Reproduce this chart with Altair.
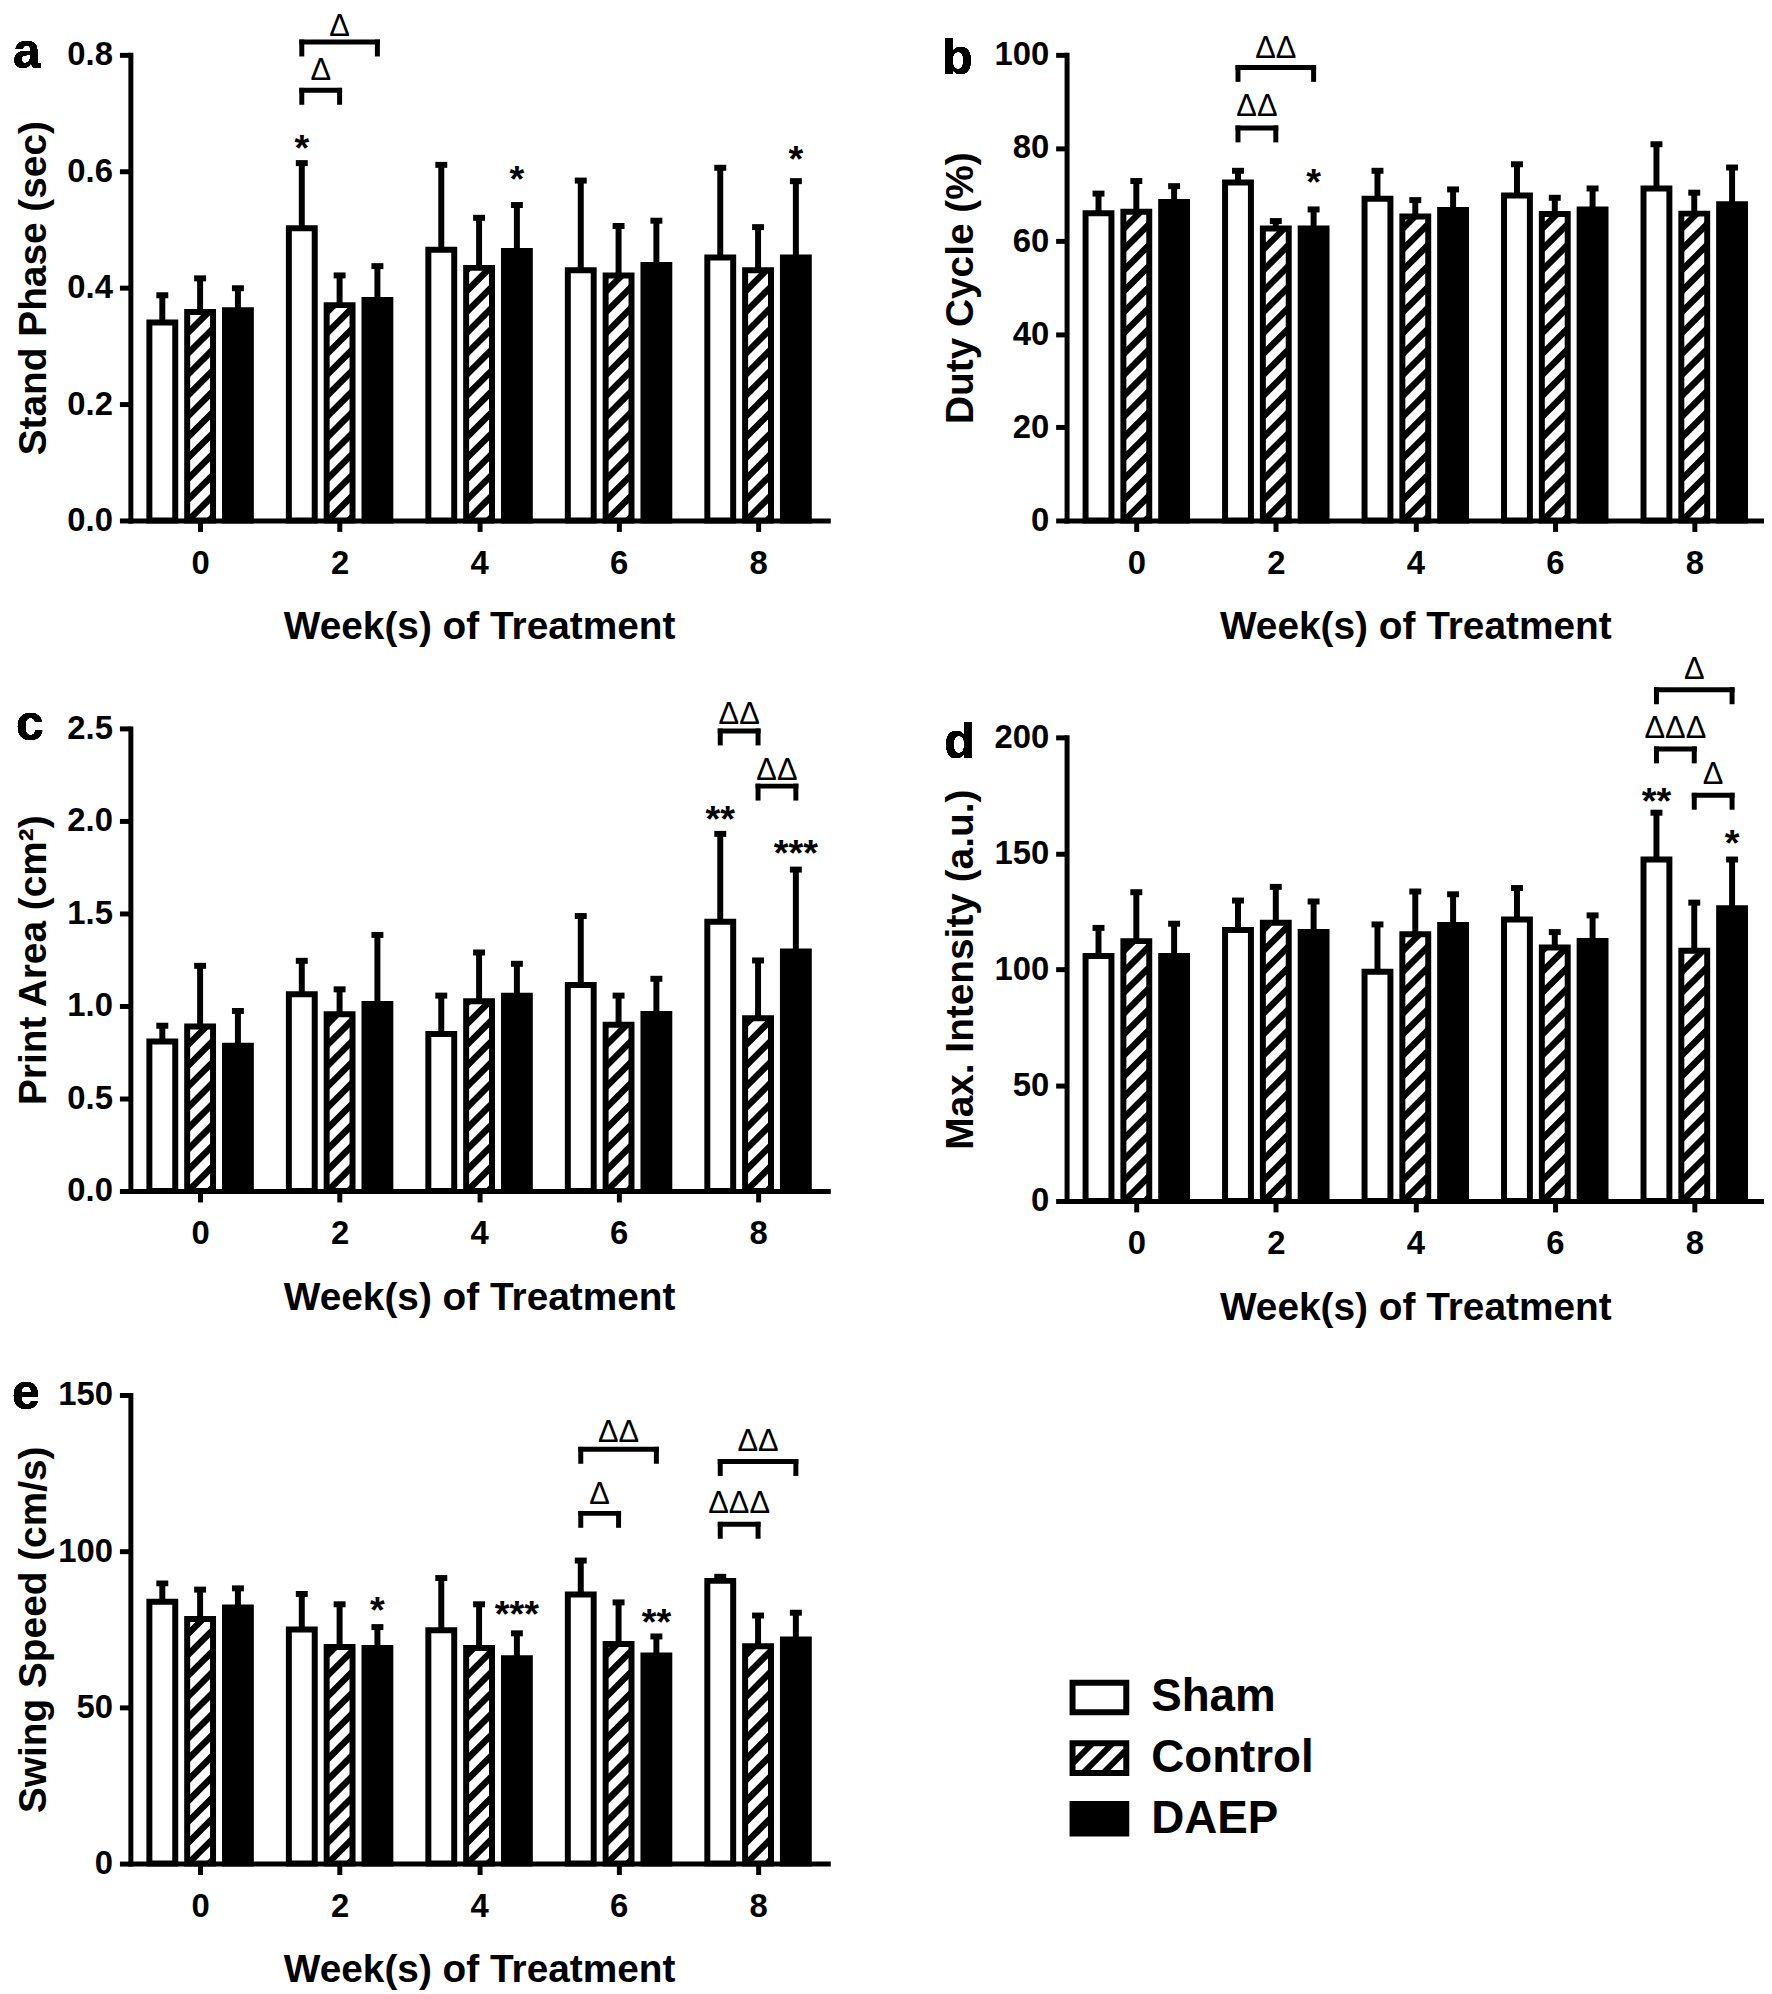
import altair as alt
import pandas as pd

# ---------------- data ----------------
weeks = [0, 2, 4, 6, 8]
groups = ["Sham", "Control", "DAEP"]

# a: Stand Phase (sec)
a_sham_mean = [0.340, 0.502, 0.465, 0.430, 0.452]
a_sham_sd = [0.047, 0.112, 0.146, 0.154, 0.154]
a_ctrl_mean = [0.358, 0.370, 0.434, 0.421, 0.430]
a_ctrl_sd = [0.058, 0.051, 0.086, 0.085, 0.074]
a_daep_mean = [0.361, 0.379, 0.463, 0.439, 0.452]
a_daep_sd = [0.038, 0.058, 0.079, 0.076, 0.131]
a_stars = [(2, "Sham", "*", 0.653), (4, "DAEP", "*", 0.601), (8, "DAEP", "*", 0.634)]
a_brackets = [(2, "Sham", "Control", 0.739, "Δ", 0.772),
              (2, "Sham", "DAEP", 0.822, "Δ", 0.848)]

# b: Duty Cycle (%)
b_sham_mean = [66.0, 72.6, 69.1, 69.8, 71.3]
b_sham_sd = [4.2, 2.5, 6.0, 6.7, 9.5]
b_ctrl_mean = [66.3, 62.7, 65.3, 65.8, 65.9]
b_ctrl_sd = [6.6, 1.6, 3.5, 3.5, 4.5]
b_daep_mean = [68.4, 62.7, 66.7, 66.8, 67.9]
b_daep_sd = [3.4, 4.1, 4.4, 4.5, 7.9]
b_stars = [(2, "DAEP", "*", 74.4)]
b_brackets = [(2, "Sham", "Control", 84.3, "ΔΔ", 88.7),
              (2, "Sham", "DAEP", 97.3, "ΔΔ", 101.3)]

# c: Print Area (cm2)
c_sham_mean = [0.808, 1.063, 0.848, 1.113, 1.455]
c_sham_sd = [0.085, 0.181, 0.208, 0.373, 0.475]
c_ctrl_mean = [0.889, 0.955, 1.025, 0.898, 0.934]
c_ctrl_sd = [0.328, 0.135, 0.264, 0.158, 0.312]
c_daep_mean = [0.785, 1.011, 1.056, 0.957, 1.294]
c_daep_sd = [0.188, 0.373, 0.172, 0.190, 0.443]
c_stars = [(8, "Sham", "**", 2.052), (8, "DAEP", "***", 1.871)]
c_brackets = [(8, "Sham", "Control", 2.486, "ΔΔ", 2.572),
              (8, "Control", "DAEP", 2.188, "ΔΔ", 2.271)]

# d: Max. Intensity (a.u.)
d_sham_mean = [105.7, 116.9, 98.9, 121.4, 147.3]
d_sham_sd = [12.1, 12.7, 20.4, 13.6, 20.2]
d_ctrl_mean = [112.1, 120.0, 115.1, 109.3, 107.9]
d_ctrl_sd = [21.1, 15.5, 18.4, 6.7, 20.8]
d_daep_mean = [105.7, 116.0, 119.1, 112.2, 126.3]
d_daep_sd = [13.9, 13.2, 13.2, 11.0, 21.0]
d_stars = [(8, "Sham", "**", 176.0), (8, "DAEP", "*", 157.7)]
d_brackets = [(8, "Sham", "Control", 195.0, "ΔΔΔ", 203.4),
              (8, "Control", "DAEP", 175.0, "Δ", 183.7),
              (8, "Sham", "DAEP", 220.5, "Δ", 229.0)]

# e: Swing Speed (cm/s)
e_sham_mean = [83.8, 74.9, 74.7, 86.1, 90.5]
e_sham_sd = [5.9, 11.4, 16.7, 10.9, 1.3]
e_ctrl_mean = [78.3, 69.3, 69.0, 70.3, 69.6]
e_ctrl_sd = [9.4, 13.7, 14.0, 13.3, 9.8]
e_daep_mean = [82.0, 69.0, 65.7, 66.6, 71.7]
e_daep_sd = [6.1, 6.7, 8.0, 6.1, 8.6]
e_stars = [(2, "DAEP", "*", 83.7), (4, "DAEP", "***", 82.4), (6, "DAEP", "**", 80.0)]
e_brackets = [(6, "Sham", "Control", 112.1, "Δ", 117.9),
              (6, "Sham", "DAEP", 132.6, "ΔΔ", 137.9),
              (8, "Sham", "Control", 108.6, "ΔΔΔ", 115.0),
              (8, "Sham", "DAEP", 128.7, "ΔΔ", 135.0)]

# ---------------- style ----------------
FONT = "Liberation Sans"
W = 701
ROW_GAP = 195
COL_GAP = 240
GROUP_OFFSET_PX = 38
BAR_HALF_PX = 13
LEG_PX = 12
HATCH_SLOPE = 1.0
HATCH_PERIOD = 21
HATCH_WIDTH = 6.5
FILLS = {"Sham": "white", "Control": "white", "DAEP": "black"}

RECT_PATH = "M-1,-0.55L1,-0.55L1,0.55L-1,0.55Z"
HATCH_PATH = RECT_PATH + "M-1,0.2L-0.26,-0.55M-0.6,0.55L0.49,-0.55M0.15,0.55L1,-0.31"


def build_panel(letter, letter_pos, ytitle, ymax, yticks, yfmt, group_h, top_off, plot_h,
                means, sds, stars, brackets, title_pad=13, legend=None):
    kx = W / 10.0
    ky = plot_h / ymax
    off = GROUP_OFFSET_PX / kx
    half = BAR_HALF_PX / kx
    x_axis_offset = -(group_h - top_off - plot_h)

    def xc(week, group):
        return week + (groups.index(group) - 1) * off

    rows = []
    for g in groups:
        for w, m, s in zip(weeks, means[g], sds[g]):
            c = xc(w, g)
            rows.append({"group": g, "week": w, "xc": c, "x0": c - half, "x1": c + half,
                         "mean": m, "top": m + s, "base": 0.0, "fillc": FILLS[g]})
    bars = pd.DataFrame(rows)

    # hatch stripes for Control bars (computed from bar geometry)
    segs = []
    wb = 2 * BAR_HALF_PX
    for r in rows:
        if r["group"] != "Control":
            continue
        hpx = r["mean"] * ky
        cval = -HATCH_SLOPE * wb + 4
        while cval < hpx:
            xs = max(0.0, -cval / HATCH_SLOPE)
            xe = min(wb, (hpx - cval) / HATCH_SLOPE)
            if xe - xs > 0.5:
                segs.append({"hx0": r["x0"] + xs / kx, "hx1": r["x0"] + xe / kx,
                             "hy0": (HATCH_SLOPE * xs + cval) / ky,
                             "hy1": (HATCH_SLOPE * xe + cval) / ky})
            cval += HATCH_PERIOD
    hatch = pd.DataFrame(segs)

    star_df = pd.DataFrame([{"x": xc(w, g), "y": y, "t": t} for (w, g, t, y) in stars])
    br_rows, leg_rows = [], []
    for (w, g1, g2, y, t, ly) in brackets:
        xa, xb = xc(w, g1), xc(w, g2)
        br_rows.append({"xa": xa, "xb": xb, "xm": (xa + xb) / 2, "y": y, "t": t, "ly": ly})
        leg_rows.append({"x": xa, "y": y, "y2": y - LEG_PX / ky})
        leg_rows.append({"x": xb, "y": y, "y2": y - LEG_PX / ky})
    br_df = pd.DataFrame(br_rows)
    leg_df = pd.DataFrame(leg_rows)

    xs_ = alt.Scale(domain=[-1, 9], nice=False, zero=False)
    ys_ = alt.Scale(domain=[0, ymax], nice=False, zero=False, range=[top_off + plot_h, top_off])
    ax = alt.Axis(values=weeks, format="d", title="Week(s) of Treatment", offset=x_axis_offset)
    ay = alt.Axis(values=yticks, format=yfmt, title=ytitle, titlePadding=title_pad)

    def X(f):
        return alt.X(f, scale=xs_, axis=ax)

    def Y(f):
        return alt.Y(f, scale=ys_, axis=ay)

    bar = alt.Chart(bars).mark_rect(stroke="black", strokeWidth=6).encode(
        x=X("x0:Q"), x2="x1:Q", y=Y("mean:Q"), y2="base:Q",
        fill=alt.Fill("fillc:N", scale=None),
    )
    hat = alt.Chart(hatch).mark_rule(strokeWidth=HATCH_WIDTH, color="black").encode(
        x=X("hx0:Q"), x2="hx1:Q", y=Y("hy0:Q"), y2="hy1:Q",
    )
    err = alt.Chart(bars).mark_rule(strokeWidth=6, color="black").encode(
        x=X("xc:Q"), y=Y("mean:Q"), y2="top:Q",
    )
    cap = alt.Chart(bars).mark_tick(orient="horizontal", size=12, thickness=6, color="black", opacity=1).encode(
        x=X("xc:Q"), y=Y("top:Q"),
    )
    st = alt.Chart(star_df).mark_text(font=FONT, fontWeight="bold", fontSize=38, baseline="middle",
                                       dy=10, color="black").encode(
        x=X("x:Q"), y=Y("y:Q"), text="t:N")
    brh = alt.Chart(br_df).mark_rule(strokeWidth=5, color="black", strokeCap="square").encode(
        x=X("xa:Q"), x2="xb:Q", y=Y("y:Q"))
    brv = alt.Chart(leg_df).mark_rule(strokeWidth=5, color="black", strokeCap="square").encode(
        x=X("x:Q"), y=Y("y:Q"), y2="y2:Q")
    brt = alt.Chart(br_df).mark_text(font=FONT, fontSize=31, baseline="middle", color="black").encode(
        x=X("xm:Q"), y=Y("ly:Q"), text="t:N")
    let = alt.Chart(bars).mark_text(text=letter, font=FONT, fontWeight="bold", fontSize=50, align="left",
                                     baseline="alphabetic", dx=letter_pos[0], dy=letter_pos[1],
                                     color="black").encode(
        x=alt.X(datum=-1, scale=xs_, axis=ax), y=alt.Y(datum=ymax, scale=ys_, axis=ay))

    layers = [bar, hat, err, cap, st, brh, brv, brt, let]
    if legend is not None:
        lp = alt.Legend(orient="none", legendX=legend[0], legendY=legend[1], title=None,
                        labelFont=FONT, labelFontSize=46, labelFontWeight="bold", labelColor="black",
                        labelLimit=0, symbolSize=2916, symbolStrokeWidth=6, symbolStrokeColor="black",
                        symbolOpacity=1, labelOffset=22, rowPadding=4, padding=0)
        lg = alt.Chart(pd.DataFrame({"group": groups})).mark_point(
            filled=False, opacity=0, stroke="black", strokeWidth=6).encode(
            x=alt.value(0), y=alt.value(0),
            shape=alt.Shape("group:N", scale=alt.Scale(domain=groups, range=[RECT_PATH, HATCH_PATH, RECT_PATH]),
                            legend=lp),
            fill=alt.Fill("group:N", scale=alt.Scale(domain=groups, range=["white", "white", "black"]),
                          legend=lp),
        )
        layers.append(lg)
    return alt.layer(*layers).properties(width=W, height=group_h)


# row group heights; plot areas sit inside them
G1, G2, G3 = 482, 475, 471

pa = build_panel("a", (-118, 13), "Stand Phase (sec)", 0.8, [0, 0.2, 0.4, 0.6, 0.8], ".1f", G1, 0, 468,
                 {"Sham": a_sham_mean, "Control": a_ctrl_mean, "DAEP": a_daep_mean},
                 {"Sham": a_sham_sd, "Control": a_ctrl_sd, "DAEP": a_daep_sd}, a_stars, a_brackets)
pb = build_panel("b", (-125, 19), "Duty Cycle (%)", 100, [0, 20, 40, 60, 80, 100], "d", G1, 0, 468,
                 {"Sham": b_sham_mean, "Control": b_ctrl_mean, "DAEP": b_daep_mean},
                 {"Sham": b_sham_sd, "Control": b_ctrl_sd, "DAEP": b_daep_sd}, b_stars, b_brackets)
pc = build_panel("c", (-115, 12), "Print Area (cm²)", 2.5, [0, 0.5, 1.0, 1.5, 2.0, 2.5], ".1f", G2, 0, 465,
                 {"Sham": c_sham_mean, "Control": c_ctrl_mean, "DAEP": c_daep_mean},
                 {"Sham": c_sham_sd, "Control": c_ctrl_sd, "DAEP": c_daep_sd}, c_stars, c_brackets)
pd_ = build_panel("d", (-123, 21), "Max. Intensity (a.u.)", 200, [0, 50, 100, 150, 200], "d", G2, 9, 466,
                  {"Sham": d_sham_mean, "Control": d_ctrl_mean, "DAEP": d_daep_mean},
                  {"Sham": d_sham_sd, "Control": d_ctrl_sd, "DAEP": d_daep_sd}, d_stars, d_brackets)
# legend is placed in top-level coordinates (origin = panel a plot origin)
pe = build_panel("e", (-119, 14), "Swing Speed (cm/s)", 150, [0, 50, 100, 150], "d", G3, 0, 471,
                 {"Sham": e_sham_mean, "Control": e_ctrl_mean, "DAEP": e_daep_mean},
                 {"Sham": e_sham_sd, "Control": e_ctrl_sd, "DAEP": e_daep_sd}, e_stars, e_brackets,
                 title_pad=4, legend=(944, 274 + G1 + ROW_GAP + G2 + ROW_GAP))

chart = alt.concat(pa, pb, pc, pd_, pe, columns=2, spacing={"row": ROW_GAP, "column": COL_GAP},
                   bounds="flush").properties(
    padding={"left": 4, "top": -3, "right": 0, "bottom": 0}
).configure_view(stroke=None).configure_axis(
    labelFont=FONT, labelFontWeight="bold", labelFontSize=33, labelColor="black",
    titleFont=FONT, titleFontWeight="bold", titleFontSize=39, titleColor="black",
    domainColor="black", domainWidth=5, domainCap="square",
    tickColor="black", tickWidth=5, tickSize=11, grid=False, labelFlush=False,
).configure_axisX(labelPadding=16, titlePadding=28).configure_axisY(labelPadding=7)

chart.save("out.html", embed_options={"renderer": "svg", "actions": False})
